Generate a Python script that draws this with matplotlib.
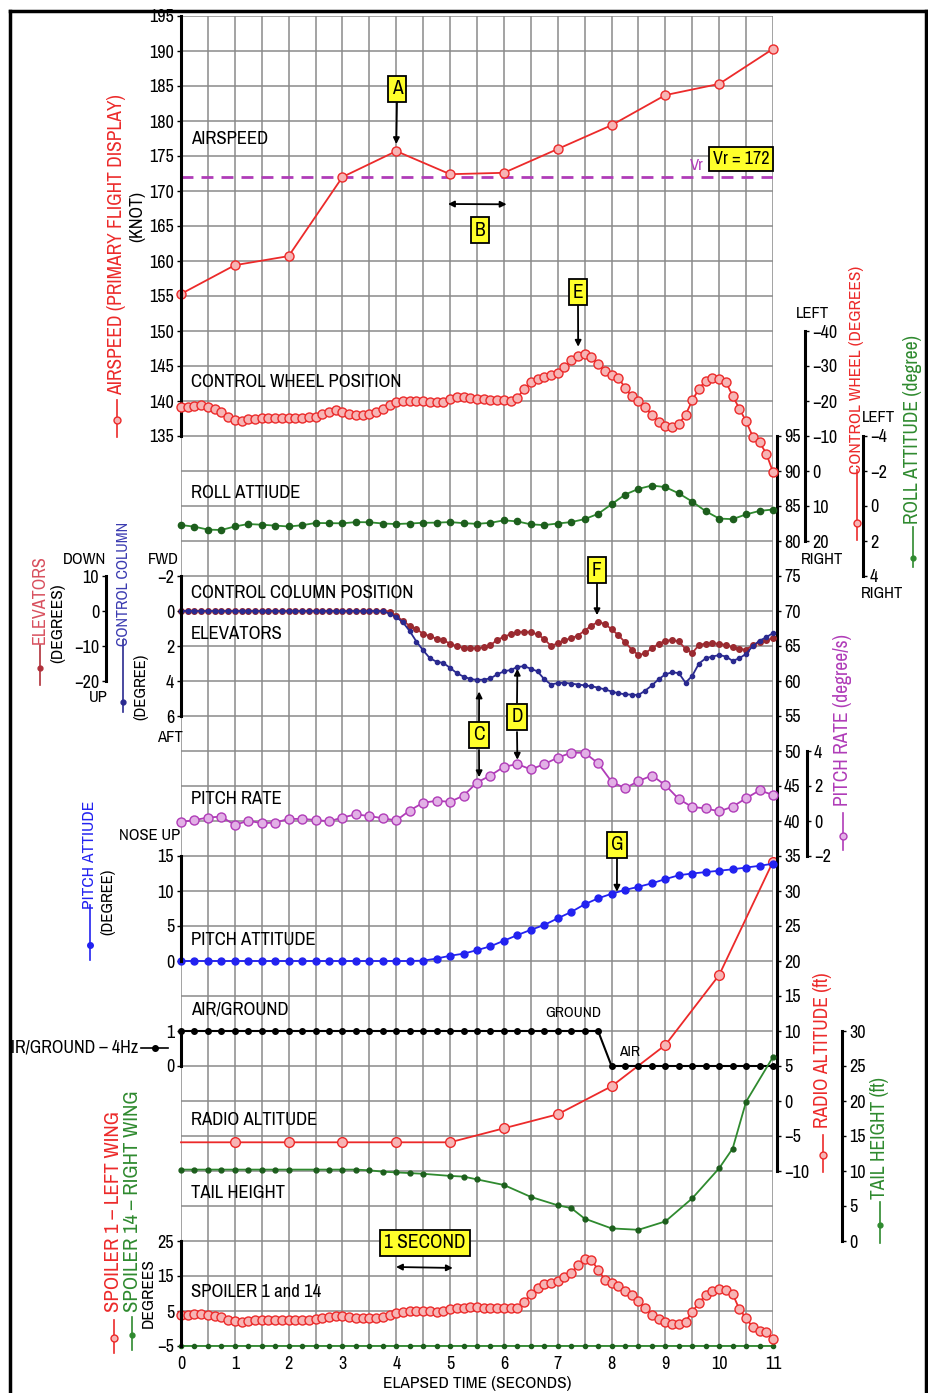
import numpy as np
import matplotlib
matplotlib.use("Agg")
import matplotlib.pyplot as plt
from matplotlib.lines import Line2D
from matplotlib.patches import Rectangle

plt.rcParams["font.family"] = ["Archivo Narrow", "PT Sans Narrow", "Liberation Sans", "DejaVu Sans"]

W, H = 929, 1393

# ---- data ----
t1 = list(range(12))            # 1 Hz samples (s)
t4 = np.linspace(0, 11, 45)     # 4 Hz samples
t8 = np.linspace(0, 11, 89)     # 8 Hz samples

airspeed = [155.3, 159.4, 160.7, 172.0, 175.7, 172.4, 172.6, 176.0, 179.4, 183.7, 185.3, 190.3]
vr_speed = 172

control_wheel = [
    -18.2, -18.4, -18.7, -18.9, -18.4, -17.8, -16.8, -15.4,
    -14.7, -14.4, -14.8, -15.0, -15.1, -15.1, -15.1, -15.1,
    -15.1, -15.1, -15.2, -15.3, -15.4, -16.2, -17.0, -17.4,
    -16.8, -16.3, -16.0, -16.0, -16.3, -17.0, -17.8, -19.0,
    -19.8, -20.0, -20.0, -20.0, -19.9, -19.8, -19.6, -19.6,
    -20.5, -21.2, -21.2, -20.9, -20.7, -20.5, -20.4, -20.3,
    -20.2, -20.1, -21.0, -23.3, -25.3, -26.3, -26.8, -27.3,
    -28.0, -29.6, -31.8, -33.0, -33.4, -32.6, -30.5, -28.5,
    -27.5, -26.7, -23.8, -21.3, -20.0, -18.2, -16.0, -14.0,
    -12.8, -12.6, -13.5, -16.0, -20.2, -23.5, -25.8, -26.6,
    -26.4, -25.4, -21.5, -17.8, -14.2, -9.8, -8.2, -5.0,
    0.3]

roll_attitude = [
    1.09, 1.18, 1.35, 1.37, 1.17, 1.03, 1.07, 1.12,
    1.17, 1.10, 0.97, 0.98, 0.99, 0.92, 0.93, 1.00,
    1.03, 1.00, 0.96, 0.95, 0.92, 0.98, 1.02, 0.96,
    0.82, 0.88, 1.05, 1.09, 1.00, 0.92, 0.75, 0.45,
    -0.10, -0.65, -0.98, -1.17, -1.08, -0.72, -0.25, 0.30,
    0.72, 0.75, 0.48, 0.28, 0.20]

control_column = [0.0] * 31 + [
    0.15, 0.35, 0.65, 1.15, 1.75, 2.25, 2.7, 2.9, 2.97,
    3.25, 3.55, 3.75, 3.88, 3.94, 3.92, 3.85, 3.62,
    3.45, 3.37, 3.2, 3.15, 3.3, 3.45, 3.9, 4.2,
    4.12, 4.1, 4.15, 4.2, 4.25, 4.3, 4.38, 4.48,
    4.6, 4.7, 4.76, 4.78, 4.8, 4.55, 4.25, 3.9,
    3.62, 3.5, 3.55, 4.1, 3.7, 3.0, 2.7, 2.6,
    2.52, 2.6, 2.85, 2.7, 2.45, 2.0, 1.7, 1.5,
    1.26]

elevators = [0.0] * 31 + [
    -0.2, -1.3, -2.9, -4.2, -5.2, -6.5, -7.2, -7.9, -8.4,
    -9.3, -10.1, -10.5, -10.7, -10.6, -10.4, -9.8, -8.2,
    -7.4, -6.6, -6.1, -5.9, -6.1, -6.7, -8.0, -10.0,
    -9.2, -8.3, -7.8, -7.0, -5.6, -4.2, -3.1, -3.7,
    -5.2, -6.9, -8.9, -11.0, -12.6, -12.1, -10.6, -9.4,
    -8.5, -8.3, -8.7, -10.8, -12.0, -9.7, -9.3, -9.2,
    -9.4, -9.7, -10.4, -10.9, -11.0, -9.8, -8.9, -8.3,
    -7.8]

pitch_rate = [
    -0.05, 0.05, 0.20, 0.25, -0.23, 0.02, -0.13, -0.09,
    0.12, 0.12, 0.06, -0.02, 0.20, 0.38, 0.28, 0.16,
    0.03, 0.60, 1.05, 1.15, 1.10, 1.45, 2.20, 2.60,
    3.10, 3.25, 2.95, 3.25, 3.62, 3.90, 3.90, 3.30,
    2.25, 1.87, 2.28, 2.60, 2.05, 1.25, 0.80, 0.72,
    0.55, 0.82, 1.30, 1.75, 1.49]

pitch_attitude = [0.0] * 18 + [
    0.05, 0.35, 0.75, 1.05, 1.55, 2.1, 2.9, 3.7, 4.45, 5.15, 6.1, 7.0, 8.1,
    8.95, 9.6, 10.15, 10.6, 11.1, 11.7, 12.25, 12.5, 12.7, 12.9, 13.1, 13.35,
    13.6, 13.9]

air_ground = [1] * 32 + [0] * 13          # 1 = ground, 0 = air

radio_altitude = [-5.9, -5.9, -5.9, -5.9, -5.9, -5.9, -3.9, -1.9, 2.1, 8.0, 18.0, 34.2]

tail_t = [0, 0.25, 0.5, 0.75, 1, 1.25, 1.5, 1.75, 2, 2.5, 2.75, 3, 3.25, 3.5, 3.75,
          4, 4.25, 4.5, 5, 5.25, 5.5, 6, 6.5, 7, 7.25, 7.5, 8, 8.5, 9, 9.5, 10,
          10.25, 10.5, 11]
tail_height = [10.2] * 9 + [
    10.2, 10.2, 10.2, 10.2, 10.1, 9.9, 9.8, 9.7, 9.6, 9.3, 9.2, 8.8, 8.0, 6.3,
    5.1, 4.7, 3.2, 1.8, 1.6, 2.8, 6.1, 10.4, 13.2, 19.9, 26.3]

spoiler_1 = [
    3.9, 4.0, 4.1, 4.2, 4.0, 3.7, 3.2, 2.5,
    2.1, 1.9, 2.1, 2.3, 2.3, 2.3, 2.3, 2.3,
    2.3, 2.3, 2.4, 2.5, 2.6, 2.9, 3.2, 3.5,
    3.5, 3.3, 3.1, 3.0, 2.9, 3.1, 3.4, 3.9,
    4.5, 4.8, 5.0, 5.0, 5.0, 4.9, 4.8, 4.9,
    5.5, 5.9, 6.0, 6.1, 6.1, 6.0, 6.0, 5.9,
    5.8, 5.8, 5.9, 7.5, 9.8, 11.6, 12.6, 13.0,
    13.5, 14.6, 15.8, 18.2, 20.0, 19.6, 16.8, 14.0,
    13.0, 12.1, 10.8, 9.6, 7.8, 5.9, 4.0, 2.8,
    1.9, 1.4, 1.3, 2.0, 4.8, 7.3, 9.6, 10.8,
    11.2, 10.9, 9.9, 5.5, 3.0, 0.3, -0.6, -1.1,
    -3.0]
spoiler_14 = [-5.0] * 45

# ---- colours ----
RED = "#ec2a2a"
RED_FILL = "#f7b4b4"
GREEN = "#2f8a2f"
BLUE = "#2222f0"
NAVY = "#2a2a90"
DKRED = "#b0303a"
PURPLE = "#b03cb8"
YELLOW = "#ffff2a"

# master grid: one row = 5 units, r from -35 (bottom) to 155 (top)
R_BOT, R_TOP = -35, 155
RECT = [181 / W, 1 - 1346 / H, (773 - 181) / W, (1346 - 16) / H]
TICK_FS = 13

fig = plt.figure(figsize=(W / 100, H / 100), dpi=100)

grid = fig.add_axes(RECT)
grid.set_xlim(0, 11)
grid.set_ylim(R_BOT, R_TOP)
grid.set_xticks(range(12))
grid.set_xticks(np.arange(0.5, 11, 1), minor=True)
grid.set_yticks(np.arange(R_BOT, R_TOP + 1, 5))
grid.grid(True, which="both", color="#8a8a8a", lw=1.1)
grid.tick_params(axis="y", left=False, labelleft=False)
grid.tick_params(axis="x", which="both", length=0, labelsize=TICK_FS, pad=7)
for s in grid.spines.values():
    s.set_visible(False)
grid.set_xlabel("ELAPSED TIME (SECONDS)", fontsize=12.5, labelpad=3)


def layer(slope, offset):
    """Transparent axes where value v sits at master r = slope * v + offset."""
    a = fig.add_axes(RECT, facecolor="none")
    a.set_xlim(0, 11)
    a.set_ylim((R_BOT - offset) / slope, (R_TOP - offset) / slope)
    a.set_xticks([])
    a.set_yticks([])
    for s in a.spines.values():
        s.set_visible(False)
    return a


def scale(a, side, x_px, lo, hi, ticks):
    sp = a.spines[side]
    sp.set_visible(True)
    sp.set_position(("axes", (x_px - 181) / (773 - 181)))
    sp.set_bounds(lo, hi)
    sp.set_linewidth(2.2)
    a.yaxis.set_ticks_position(side)
    a.set_yticks(ticks)
    a.tick_params(axis="y", direction="out", length=3, width=1,
                  labelsize=TICK_FS, pad=2)


def ftext(x, y, s, **kw):
    kw.setdefault("fontsize", 12)
    kw.setdefault("va", "center")
    return fig.text(x / W, 1 - y / H, s, **kw)


def vkey(x, y0, y1, ym, color, **mk):
    fig.add_artist(Line2D([x / W, x / W], [1 - y0 / H, 1 - y1 / H],
                          color=color, lw=1.2, transform=fig.transFigure))
    fig.add_artist(Line2D([x / W], [1 - ym / H], color=color,
                          transform=fig.transFigure, **mk))


def box(x, y, s, fs=14):
    ftext(x, y, s, ha="center", fontsize=fs,
          bbox=dict(boxstyle="square,pad=0.2", fc=YELLOW, ec="black", lw=1.3))


def arrow(a, xy, x_px, y_px, style="-|>"):
    a.annotate("", xy=xy, xycoords="data", xytext=(x_px, H - y_px),
               textcoords="figure pixels",
               arrowprops=dict(arrowstyle=style, color="black", lw=1.3,
                               shrinkA=0, shrinkB=0, mutation_scale=9))


open_red = dict(marker="o", ms=6.5, mfc=RED_FILL, mec=RED, mew=1.0)

# ---- airspeed ----
as_ax = layer(1, -40)
scale(as_ax, "left", 181, 135, 195, range(135, 196, 5))
as_ax.axhline(vr_speed, color=PURPLE, lw=2, dashes=(4.3, 2.9))
as_ax.plot(t1, airspeed, color=RED, lw=1.3, clip_on=False, **open_red)

# ---- radio altitude (long right scale) ----
ra_ax = layer(1, 0)
scale(ra_ax, "right", 777, -10, 95, range(-10, 96, 5))
ra_ax.plot(t1, radio_altitude, color=RED, lw=1.3, clip_on=False)
ra_ax.plot(t1[1:], radio_altitude[1:], ls="none", clip_on=False,
           **dict(open_red, ms=7))

# ---- control wheel ----
cw_ax = layer(-0.5, 90)
scale(cw_ax, "right", 805, -40, 20, range(-40, 21, 10))
cw_ax.plot(t8, control_wheel, color=RED, lw=1.3, clip_on=False, **open_red)

# ---- roll attitude ----
ro_ax = layer(-2.5, 85)
scale(ro_ax, "right", 863, -4, 4, [-4, -2, 0, 2, 4])
ro_ax.plot(t4, roll_attitude, color=GREEN, lw=1.3, marker="o", ms=4.5,
           mfc="#1d5e1d", mec="#1d5e1d", clip_on=False)

# ---- elevators ----
el_ax = layer(0.5, 70)
scale(el_ax, "left", 106, -20, 10, [-20, -10, 0, 10])
el_ax.plot(t8, elevators, color=DKRED, lw=1.3, marker="o", ms=4,
           mfc="#9a2a30", mec="#9a2a30", clip_on=False)

# ---- control column ----
cc_ax = layer(-2.5, 70)
scale(cc_ax, "left", 181, -2, 6, [-2, 0, 2, 4, 6])
cc_ax.plot(t8, control_column, color=NAVY, lw=1.3, marker="o", ms=3,
           mfc=NAVY, mec=NAVY, clip_on=False)

# ---- pitch rate ----
pr_ax = layer(2.5, 40)
scale(pr_ax, "right", 807, -2, 4, [-2, 0, 2, 4])
pr_ax.plot(t4, pitch_rate, color=PURPLE, lw=1.3, marker="o", ms=6.5,
           mfc="#e2b0e6", mec=PURPLE, clip_on=False)

# ---- pitch attitude ----
pa_ax = layer(1, 20)
scale(pa_ax, "left", 181, 0, 15, [0, 5, 10, 15])
pa_ax.plot(t4, pitch_attitude, color=BLUE, lw=1.3, marker="o", ms=5,
           mfc=BLUE, mec=BLUE, clip_on=False)

# ---- air / ground ----
ag_ax = layer(5, 5)
scale(ag_ax, "left", 181, 0, 1, [0, 1])
ag_ax.plot(t4, air_ground, color="black", lw=1.5, marker="o", ms=4,
           clip_on=False)

# ---- tail height ----
th_ax = layer(1, -20)
scale(th_ax, "right", 842, 0, 30, range(0, 31, 5))
th_ax.plot(tail_t, tail_height, color=GREEN, lw=1.3, marker="o", ms=3.5,
           mfc="#1d5e1d", mec="#1d5e1d", clip_on=False)

# ---- spoilers ----
sp_ax = layer(0.5, -32.5)
scale(sp_ax, "left", 181, -5, 25, [-5, 5, 15, 25])
sp_ax.plot(t4, spoiler_14, color=GREEN, lw=1.3, marker="o", ms=3,
           mfc="#1d5e1d", mec="#1d5e1d", clip_on=False)
sp_ax.plot(t8, spoiler_1, color=RED, lw=1.3, clip_on=False, **open_red)

# ---- labels inside the grid ----
for y, s in [(139, "AIRSPEED"), (382, "CONTROL WHEEL POSITION"),
             (493, "ROLL ATTIUDE"), (593, "CONTROL COLUMN POSITION"),
             (634, "ELEVATORS"), (799, "PITCH RATE"), (940, "PITCH ATTITUDE"),
             (1010, "AIR/GROUND"), (1120, "RADIO ALTITUDE"),
             (1193, "TAIL HEIGHT"), (1292, "SPOILER 1 and 14")]:
    ftext(191, y, s, fontsize=13.5)
ftext(573, 1013, "GROUND", ha="center", fontsize=11)
ftext(630, 1052, "AIR", ha="center", fontsize=11)
ftext(697, 166, "Vr", ha="center", fontsize=12, color=PURPLE)

# ---- annotation call-outs ----
box(741, 159, "Vr = 172", fs=13)
box(397, 89, "A")
arrow(as_ax, (4, airspeed[4] + 1.0), 397, 101)
box(480, 230, "B")
arrow(as_ax, (6.05, 168.1), 448, 204, style="<|-|>")
box(578, 292, "E")
arrow(cw_ax, (7.38, -35.5), 578, 305)
box(597, 570, "F")
arrow(el_ax, (7.73, -1.2), 597, 583)
box(479, 735, "C")
arrow(cc_ax, (5.54, 4.6), 479, 721)
arrow(pr_ax, (5.54, 2.5), 479, 750)
box(517, 717, "D")
arrow(cc_ax, (6.25, 3.3), 517, 703)
arrow(pr_ax, (6.25, 3.5), 517, 732)
box(617, 845, "G")
arrow(pa_ax, (8.1, 9.9), 617, 858)
box(425, 1243, "1 SECOND")
arrow(sp_ax, (5.05, 17.3), 396, 1267, style="<|-|>")

# ---- side legends / axis titles ----
def rot(fs):
    return dict(rotation=90, ha="center", fontsize=fs)

ftext(117, 245, "AIRSPEED (PRIMARY FLIGHT DISPLAY)", color=RED, **rot(14))
vkey(117, 400, 437, 420, RED, **dict(open_red, ms=5))
ftext(137, 216, "(KNOT)", **rot(13))

ftext(40, 600, "ELEVATORS", color="#d8505e", **rot(13))
vkey(40, 645, 685, 668, DKRED, marker="o", ms=3.5, mfc=DKRED, mec=DKRED)
ftext(58, 623, "(DEGREES)", **rot(12.5))
ftext(85, 559, "DOWN", ha="center", fontsize=12)
ftext(98, 698, "UP", ha="center", fontsize=12)
ftext(123, 584, "CONTROL COLUMN", color="#3a3ab0", **rot(11.5))
vkey(123, 640, 712, 702, NAVY, marker="o", ms=3.5, mfc=NAVY, mec=NAVY)
ftext(141, 687, "(DEGREE)", **rot(12))
ftext(163, 559, "FWD", ha="center", fontsize=12)
ftext(170, 737, "AFT", ha="center", fontsize=12)

ftext(90, 855, "PITCH ATTIUDE", color=BLUE, **rot(12.5))
vkey(90, 905, 960, 945, BLUE, marker="o", ms=4, mfc=BLUE, mec=BLUE)
ftext(108, 902, "(DEGREE)", **rot(12))
ftext(150, 836, "NOSE UP", ha="center", fontsize=12)

ftext(138, 1048, "AIR/GROUND \u2013 4Hz", ha="right", fontsize=13)
fig.add_artist(Line2D([141 / W, 168 / W], [1 - 1048 / H] * 2, color="black",
                      lw=1.2, transform=fig.transFigure))
fig.add_artist(Line2D([155 / W], [1 - 1048 / H], color="black", marker="o",
                      ms=4, transform=fig.transFigure))

ftext(114, 1212, "SPOILER 1 \u2013 LEFT WING", color=RED, **rot(15))
vkey(114, 1320, 1353, 1338, RED, **dict(open_red, ms=5))
ftext(132, 1201, "SPOILER 14 \u2013 RIGHT WING", color=GREEN, **rot(15))
vkey(132, 1317, 1350, 1335, GREEN, marker="o", ms=3.5, mfc=GREEN, mec=GREEN)
ftext(148, 1293, "DEGREES", **rot(12.5))

ftext(857, 370, "CONTROL WHEEL (DEGREES)", color=RED, **rot(12.5))
vkey(857, 470, 540, 523, RED, **dict(open_red, ms=5))
ftext(813, 313, "LEFT", ha="center", fontsize=12)
ftext(822, 560, "RIGHT", ha="center", fontsize=12)
ftext(879, 417, "LEFT", ha="center", fontsize=12)
ftext(882, 593, "RIGHT", ha="center", fontsize=12)
ftext(913, 430, "ROLL ATTITUDE (degree)", color=GREEN, **rot(14))
vkey(913, 527, 567, 558, GREEN, marker="o", ms=3.5, mfc=GREEN, mec=GREEN)
ftext(843, 720, "PITCH RATE (degree/s)", color=PURPLE, **rot(14))
vkey(843, 813, 850, 836, PURPLE, marker="o", ms=5, mfc="#e2b0e6", mec=PURPLE)
ftext(823, 1050, "RADIO ALTITUDE (ft)", color=RED, **rot(14))
vkey(823, 1135, 1172, 1155, RED, **dict(open_red, ms=5))
ftext(880, 1138, "TAIL HEIGHT (ft)", color=GREEN, **rot(14))
vkey(880, 1202, 1243, 1225, GREEN, marker="o", ms=3.5, mfc=GREEN, mec=GREEN)

# ---- outer frame (the left label runs under it) ----
fig.add_artist(Rectangle((0, 0), 10 / W, 1, transform=fig.transFigure,
                         fc="white", ec="none", zorder=5))
for xs, ys in [([10, 10], [11, H]), ([10, 926], [11, 11]), ([926, 926], [11, H])]:
    fig.add_artist(Line2D([x / W for x in xs], [1 - y / H for y in ys],
                          color="black", lw=2.5, transform=fig.transFigure,
                          zorder=6))

fig.savefig("out.png", dpi=100)
